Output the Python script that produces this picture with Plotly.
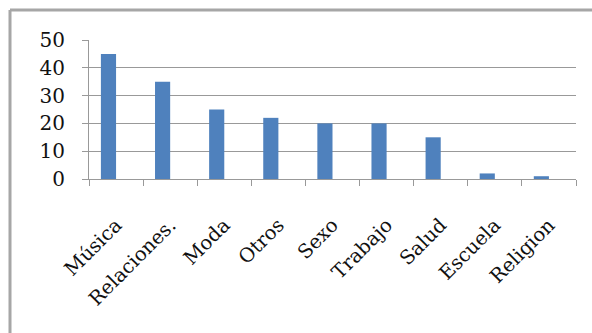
import plotly.graph_objects as go

categorias = ["Música", "Relaciones.", "Moda", "Otros", "Sexo", "Trabajo", "Salud", "Escuela", "Religion"]
valores = [45, 35, 25, 22, 20, 20, 15, 2, 1]
y_ticks = [0, 10, 20, 30, 40, 50]

fig = go.Figure()
fig.add_trace(go.Bar(
    x=categorias,
    y=valores,
    width=0.28,
    offset=-0.28,
    marker=dict(color="#4F81BD", line=dict(width=0)),
))

fig.update_layout(
    width=592,
    height=333,
    margin=dict(l=89, r=16, t=40, b=154),
    paper_bgcolor="white",
    plot_bgcolor="white",
    showlegend=False,
    font=dict(family="DejaVu Serif", color="#111111"),
    xaxis=dict(
        type="category",
        range=[-0.5, 8.5],
        tickson="boundaries",
        ticks="outside",
        ticklen=6,
        tickcolor="#999999",
        showline=True,
        linecolor="#999999",
        linewidth=1,
        showgrid=False,
        tickangle=-45,
        tickfont=dict(size=19.5),
        ticklabelstandoff=26,
        automargin=False,
    ),
    yaxis=dict(
        range=[0, 50],
        tickvals=y_ticks,
        ticks="outside",
        ticklen=6,
        tickcolor="#999999",
        showline=True,
        linecolor="#999999",
        linewidth=1,
        showgrid=True,
        gridcolor="#999999",
        gridwidth=1,
        zeroline=False,
        tickfont=dict(size=20),
        ticklabelstandoff=13,
        automargin=False,
    ),
    shapes=[
        dict(type="line", xref="paper", yref="paper", xsizemode="pixel", ysizemode="pixel",
             xanchor=0, yanchor=1, x0=-79, x1=600, y0=30, y1=30,
             line=dict(color="#a6a6a6", width=3)),
        dict(type="line", xref="paper", yref="paper", xsizemode="pixel", ysizemode="pixel",
             xanchor=0, yanchor=1, x0=-79, x1=-79, y0=30, y1=-300,
             line=dict(color="#a6a6a6", width=3)),
    ],
)

fig.write_html("out.html")
